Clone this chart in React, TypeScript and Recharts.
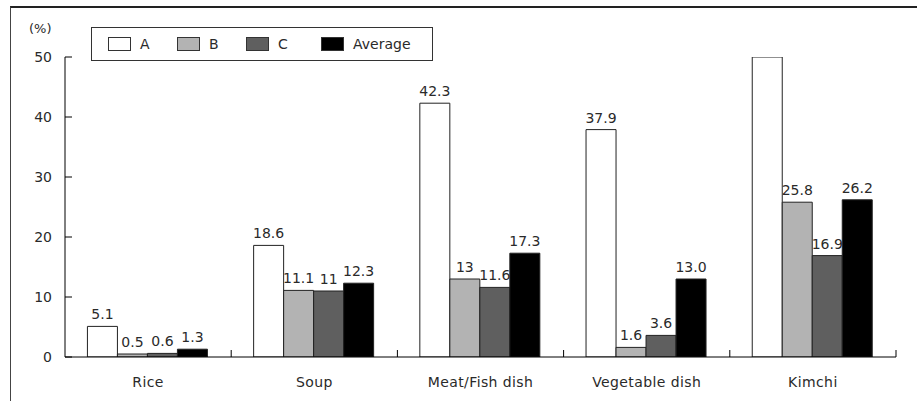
import React from 'react';
import { BarChart, Bar, XAxis, YAxis, Legend, LabelList } from 'recharts';

const categories = ['Rice', 'Soup', 'Meat/Fish dish', 'Vegetable dish', 'Kimchi'];
const valuesA = [5.1, 18.6, 42.3, 37.9, 50];
const valuesB = [0.5, 11.1, 13, 1.6, 25.8];
const valuesC = [0.6, 11, 11.6, 3.6, 16.9];
const valuesAvg = [1.3, 12.3, 17.3, 13.0, 26.2];
const labelsA = ['5.1', '18.6', '42.3', '37.9', ''];
const labelsB = ['0.5', '11.1', '13', '1.6', '25.8'];
const labelsC = ['0.6', '11', '11.6', '3.6', '16.9'];
const labelsAvg = ['1.3', '12.3', '17.3', '13.0', '26.2'];
const yTicks = [0, 10, 20, 30, 40, 50];

const FONT = '"DejaVu Sans", sans-serif';
const TEXT = '#2a2a2a';

const series = [
  { key: 'a', name: 'A', fill: '#ffffff', itemWidth: 69 },
  { key: 'b', name: 'B', fill: '#b3b3b3', itemWidth: 69 },
  { key: 'c', name: 'C', fill: '#5f5f5f', itemWidth: 75 },
  { key: 'avg', name: 'Average', fill: '#000000', itemWidth: 100 },
];

const data = categories.map((name, i) => ({
  name,
  a: valuesA[i],
  b: valuesB[i],
  c: valuesC[i],
  avg: valuesAvg[i],
  la: labelsA[i],
  lb: labelsB[i],
  lc: labelsC[i],
  lavg: labelsAvg[i],
}));

// category label plus the small upward tick at the right edge of each group
const CategoryTick = (props: any) => {
  const { x, y, payload, width } = props;
  const half = payload.offset || width / categories.length / 2;
  return (
    <g>
      <line x1={x + half} x2={x + half} y1={y} y2={y - 7} stroke="#000" />
      <text
        x={x}
        y={y + 30}
        textAnchor="middle"
        fontSize={14}
        fontFamily={FONT}
        letterSpacing={0.4}
        fill={TEXT}
      >
        {payload.value}
      </text>
    </g>
  );
};

const LegendBox = () => (
  <div
    style={{
      border: '1px solid #333',
      width: 342,
      height: 34,
      display: 'flex',
      alignItems: 'center',
      boxSizing: 'border-box',
      paddingLeft: 16,
      fontFamily: FONT,
      fontSize: 14,
      color: TEXT,
    }}
  >
    {series.map((s) => (
      <div key={s.key} style={{ display: 'flex', alignItems: 'center', width: s.itemWidth, flex: 'none' }}>
        <span
          style={{
            display: 'inline-block',
            width: 23,
            height: 14,
            background: s.fill,
            border: '1px solid #333',
            boxSizing: 'border-box',
            marginRight: 9,
          }}
        />
        <span>{s.name}</span>
      </div>
    ))}
  </div>
);

export default function App() {
  return (
    <div style={{ position: 'absolute', left: 0, top: 0, width: 917, height: 401, background: '#fff' }}>
      <div
        style={{
          position: 'absolute',
          left: 10,
          top: 6,
          right: 0,
          bottom: 0,
          borderTop: '2px solid #222',
          borderLeft: '1px solid #444',
        }}
      />
      <div
        style={{
          position: 'absolute',
          left: 29,
          top: 21,
          fontFamily: FONT,
          fontSize: 13,
          color: TEXT,
        }}
      >
        (%)
      </div>
      <BarChart
        width={917}
        height={401}
        data={data}
        margin={{ top: 57, right: 21, bottom: 0, left: 0 }}
        barCategoryGap="13.5%"
        barGap={0}
      >
        <XAxis
          dataKey="name"
          height={44}
          axisLine={{ stroke: '#000' }}
          tickLine={false}
          tickSize={0}
          tickMargin={0}
          interval={0}
          tick={<CategoryTick />}
        />
        <YAxis
          width={65}
          domain={[0, 50]}
          ticks={yTicks}
          allowDataOverflow
          axisLine={{ stroke: '#000' }}
          tickLine={{ stroke: '#000' }}
          tickSize={-7}
          tickMargin={20}
          tick={{ fontSize: 14, fontFamily: FONT, fill: TEXT }}
        />
        <Legend
          layout="vertical"
          align="center"
          verticalAlign="middle"
          content={<LegendBox />}
          wrapperStyle={{ position: 'absolute', left: 91, top: 27, width: 342, height: 34 }}
        />
        {series.map((s) => (
          <Bar
            key={s.key}
            dataKey={s.key}
            name={s.name}
            fill={s.fill}
            stroke="#222"
            strokeWidth={1}
            isAnimationActive={false}
          >
            <LabelList
              dataKey={'l' + s.key}
              position="top"
              offset={7}
              fontSize={14}
              fontFamily={FONT}
              fill={TEXT}
            />
          </Bar>
        ))}
      </BarChart>
    </div>
  );
}
